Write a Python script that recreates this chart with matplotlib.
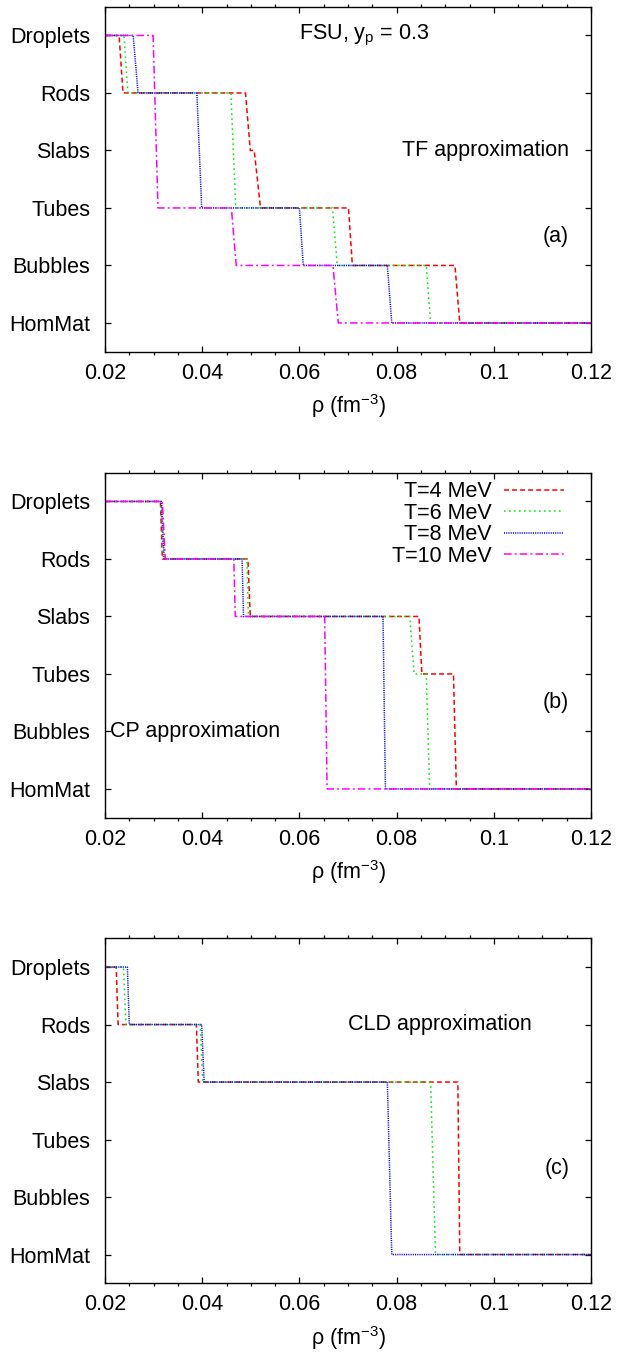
import matplotlib
matplotlib.use("Agg")
import matplotlib.pyplot as plt
from matplotlib import ticker

plt.rcParams['font.family'] = ['Liberation Sans', 'DejaVu Sans']
plt.rcParams['mathtext.fontset'] = 'custom'
plt.rcParams['mathtext.rm'] = 'Liberation Sans'
plt.rcParams['mathtext.it'] = 'Liberation Sans:italic'
plt.rcParams['font.size'] = 15.5
plt.rcParams['lines.scale_dashes'] = False

phases = ['HomMat', 'Bubbles', 'Tubes', 'Slabs', 'Rods', 'Droplets']
temps = ['T=4 MeV', 'T=6 MeV', 'T=8 MeV', 'T=10 MeV']

# panel (a): TF
tf_rho = [
    [0.02, 0.0229, 0.0237, 0.0489, 0.0499, 0.0507, 0.0520, 0.0701, 0.0709, 0.0920, 0.0930, 0.12],
    [0.02, 0.0239, 0.0247, 0.0459, 0.0469, 0.0668, 0.0678, 0.0861, 0.0870, 0.12],
    [0.02, 0.0258, 0.0268, 0.0389, 0.0399, 0.0600, 0.0608, 0.0781, 0.0790, 0.12],
    [0.02, 0.0299, 0.0309, 0.0460, 0.0470, 0.0669, 0.0680, 0.12],
]
tf_phase = [
    [5, 5, 4, 4, 3, 3, 2, 2, 1, 1, 0, 0],
    [5, 5, 4, 4, 2, 2, 1, 1, 0, 0],
    [5, 5, 4, 4, 2, 2, 1, 1, 0, 0],
    [5, 5, 2, 2, 1, 1, 0, 0],
]

# panel (b): CP
cp_rho = [
    [0.02, 0.0314, 0.0318, 0.0494, 0.0499, 0.0846, 0.0852, 0.0917, 0.0923, 0.12],
    [0.02, 0.0315, 0.0320, 0.0492, 0.0495, 0.0827, 0.0836, 0.0861, 0.0868, 0.12],
    [0.02, 0.0316, 0.0322, 0.0482, 0.0485, 0.0772, 0.0777, 0.12],
    [0.02, 0.0318, 0.0324, 0.0465, 0.0468, 0.0652, 0.0657, 0.12],
]
cp_phase = [
    [5, 5, 4, 4, 3, 3, 2, 2, 0, 0],
    [5, 5, 4, 4, 3, 3, 2, 2, 0, 0],
    [5, 5, 4, 4, 3, 3, 0, 0],
    [5, 5, 4, 4, 3, 3, 0, 0],
]

# panel (c): CLD (no T=10 curve)
cld_rho = [
    [0.02, 0.0223, 0.0227, 0.0388, 0.0392, 0.0926, 0.0930, 0.12],
    [0.02, 0.0238, 0.0243, 0.0396, 0.0401, 0.0870, 0.0880, 0.12],
    [0.02, 0.0246, 0.0250, 0.0399, 0.0404, 0.0781, 0.0790, 0.12],
]
cld_phase = [
    [5, 5, 4, 4, 3, 3, 0, 0],
    [5, 5, 4, 4, 3, 3, 0, 0],
    [5, 5, 4, 4, 3, 3, 0, 0],
]

colors = ['#ff0000', '#00ee00', '#0000ff', '#ff00ff']
styles = [(0, (3.6, 2.2)), (0, (1.2, 2.4)), (0, (0.8, 0.8)), (0, (5.5, 2.2, 1.4, 2.2))]

fig = plt.figure(figsize=(6.18, 13.56), dpi=100)
left, width = 105 / 618, 486 / 618
hgt = 345 / 1356
bottoms = [1 - 351.7 / 1356, 1 - 817.7 / 1356, 1 - 1283.3 / 1356]


def setup(ax):
    ax.set_xlim(0.02, 0.12)
    ax.set_ylim(-0.5, 5.5)
    ax.set_xticks([0.02, 0.04, 0.06, 0.08, 0.1, 0.12])
    ax.xaxis.set_major_formatter(ticker.FormatStrFormatter('%g'))
    ax.xaxis.set_minor_locator(ticker.MultipleLocator(0.005))
    ax.set_yticks(range(6))
    ax.set_yticklabels(phases)
    ax.tick_params(direction='in', top=True, right=True, width=0.9)
    ax.tick_params(axis='x', which='major', length=4.2, pad=8)
    ax.tick_params(axis='x', which='minor', length=2, width=0.9, top=True)
    ax.tick_params(axis='y', which='major', length=4.2, pad=10.8)
    for s in ax.spines.values():
        s.set_linewidth(1.0)
    ax.set_xlabel('ρ (fm$^{-3}$)', labelpad=6)


panels = [(tf_rho, tf_phase), (cp_rho, cp_phase), (cld_rho, cld_phase)]
axes = []
for k, (rr, pp) in enumerate(panels):
    ax = fig.add_axes([left, bottoms[k], width, hgt])
    for i in range(len(rr)):
        ax.plot(rr[i], pp[i], color=colors[i], linestyle=styles[i], lw=1.1, label=temps[i])
    setup(ax)
    axes.append(ax)

ax1, ax2, ax3 = axes
ax1.text(0.06, 5, r'FSU, y$_\mathrm{p}$ = 0.3', ha='left', va='center')
ax1.text(0.1155, 3, 'TF approximation', ha='right', va='center')
ax1.text(0.1155, 1.5, '(a)', ha='right', va='center')

ax2.text(0.021, 1, 'CP approximation', ha='left', va='center')
ax2.text(0.1155, 1.5, '(b)', ha='right', va='center')
ax2.legend(loc='upper right', bbox_to_anchor=(0.9444, 0.975), frameon=False,
           markerfirst=False, handlelength=2.8, handletextpad=0.55,
           labelspacing=0.02, borderpad=0, borderaxespad=0)

ax3.text(0.070, 4, 'CLD approximation', ha='left', va='center')
ax3.text(0.1155, 1.5, '(c)', ha='right', va='center')

plt.savefig('out.png', dpi=100)
